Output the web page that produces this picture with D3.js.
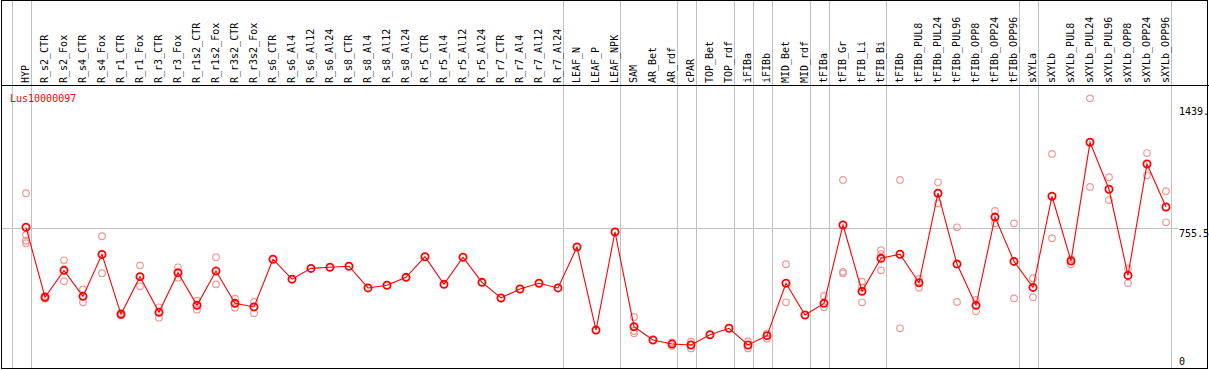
<!DOCTYPE html>
<html>
<head>
<meta charset="utf-8">
<script src="https://cdn.jsdelivr.net/npm/d3@7"></script>
<style>
  html, body { margin: 0; padding: 0; background: #fff; }
  svg { display: block; }
  text { font-family: "DejaVu Sans Mono", monospace; font-size: 10px; }
</style>
</head>
<body>
<div id="chart"></div>
<script>
const geneId = 'Lus10000097';

const samples = [
  'HYP', 'R_s2_CTR', 'R_s2_Fox', 'R_s4_CTR', 'R_s4_Fox', 'R_r1_CTR', 'R_r1_Fox',
  'R_r3_CTR', 'R_r3_Fox', 'R_r1s2_CTR', 'R_r1s2_Fox', 'R_r3s2_CTR', 'R_r3s2_Fox',
  'R_s6_CTR', 'R_s6_Al4', 'R_s6_Al12', 'R_s6_Al24', 'R_s8_CTR', 'R_s8_Al4',
  'R_s8_Al12', 'R_s8_Al24', 'R_r5_CTR', 'R_r5_Al4', 'R_r5_Al12', 'R_r5_Al24',
  'R_r7_CTR', 'R_r7_Al4', 'R_r7_Al12', 'R_r7_Al24', 'LEAF_N', 'LEAF_P', 'LEAF_NPK',
  'SAM', 'AR_Bet', 'AR_rdf', 'cPAR', 'TOP_Bet', 'TOP_rdf', 'iFIBa', 'iFIBb',
  'MID_Bet', 'MID_rdf', 'tFIBa', 'tFIB_Gr', 'tFIB_Li', 'tFIB_Bi', 'tFIBb',
  'tFIBb_PUL8', 'tFIBb_PUL24', 'tFIBb_PUL96', 'tFIBb_OPP8', 'tFIBb_OPP24',
  'tFIBb_OPP96', 'sXYLa', 'sXYLb', 'sXYLb_PUL8', 'sXYLb_PUL24', 'sXYLb_PUL96',
  'sXYLb_OPP8', 'sXYLb_OPP24', 'sXYLb_OPP96',
];

// mean expression per sample
const means = [
  761, 371, 521, 376, 610, 276, 486, 287, 508, 326, 517, 337, 317,
  583, 472, 532, 538, 544, 423, 438, 482, 597, 443, 594, 454, 367, 417, 449, 423,
  651, 188, 735,
  207, 133, 110, 105, 162, 198, 105, 157, 449, 272,
  337, 774, 404, 588,
  611, 452, 951, 556, 326, 818, 571,
  426, 934, 573, 1235, 973, 493, 1114, 874,
];

// replicate values (empty where only the mean is shown)
const replicates = [
  [951, 718, 686, 672], [378, 364], [577, 460], [415, 343], [711, 505],
  [282, 270], [549, 432], [315, 257], [538, 480], [352, 302], [594, 443],
  [363, 313], [345, 282],
  [], [], [], [], [], [], [], [], [], [], [], [], [], [], [], [],
  [], [], [],
  [261, 183, 170], [], [119, 99], [125, 86], [], [], [125, 86], [170, 140],
  [555, 343], [],
  [378, 315], [1025, 513, 505], [458, 426, 343], [634, 612, 521],
  [1025, 198], [473, 424], [1012, 895], [761, 345], [356, 293], [852, 783], [783, 365],
  [477, 371], [1170, 700], [583, 555], [1480, 986], [1040, 913], [532, 449],
  [1175, 1051], [963, 789],
];

// last sample of each tissue group (a grey separator follows it)
const groupEnds = [
  'HYP', 'R_r7_Al24', 'LEAF_NPK', 'AR_rdf', 'cPAR', 'TOP_rdf', 'iFIBa', 'iFIBb',
  'MID_rdf', 'tFIBa', 'tFIB_Bi', 'tFIBb_OPP96', 'sXYLa', 'sXYLb_OPP96',
];

const yTicks = [1439, 755.5, 0];
const yTickLabels = ['1439.', '755.5', '0'];
const gridValue = 755.5;

const width = 1209;
const height = 370;
const headerBottom = 85.5;
const plotBottom = 368.5;

const svg = d3
  .select('#chart')
  .append('svg')
  .attr('width', width)
  .attr('height', height);

const xScale = d3.scalePoint().domain(samples).range([26, 1166]);
const step = xScale.step();

const yScale = d3.scaleLinear().domain([0, 1439]).range([363.8, 105.7]);

// group separators
const sepX = [xScale(samples[0]) - step + 4.5, ...groupEnds.map((s) => xScale(s) + 4.5)];

svg
  .append('g')
  .selectAll('line')
  .data(sepX)
  .join('line')
  .attr('x1', (d) => Math.round(d) + 0.5)
  .attr('x2', (d) => Math.round(d) + 0.5)
  .attr('y1', 0)
  .attr('y2', plotBottom)
  .attr('stroke', '#c0c0c0')
  .attr('stroke-width', 1);

// mid gridline
svg
  .append('line')
  .attr('x1', 1)
  .attr('x2', 1178)
  .attr('y1', Math.round(yScale(gridValue)) + 0.5)
  .attr('y2', Math.round(yScale(gridValue)) + 0.5)
  .attr('stroke', '#c0c0c0');

// frame
svg
  .append('rect')
  .attr('x', 1.5)
  .attr('y', 0.5)
  .attr('width', 1206)
  .attr('height', plotBottom - 0.5)
  .attr('fill', 'none')
  .attr('stroke', '#000');

svg
  .append('line')
  .attr('x1', 1)
  .attr('x2', width)
  .attr('y1', headerBottom)
  .attr('y2', headerBottom)
  .attr('stroke', '#000');

// rotated sample labels
svg
  .append('g')
  .selectAll('text')
  .data(samples)
  .join('text')
  .attr('transform', (d) => `translate(${xScale(d) + 3},83) rotate(-90)`)
  .attr('fill', '#000')
  .text((d) => d);

// gene id
svg
  .append('text')
  .attr('x', 10)
  .attr('y', 101.5)
  .attr('fill', '#f00')
  .text(geneId);

// y labels on the right
svg
  .append('g')
  .selectAll('text')
  .data(yTicks)
  .join('text')
  .attr('x', 1179)
  .attr('y', (d) => Math.min(yScale(d) + 9, 364.5))
  .attr('fill', '#000')
  .text((d, i) => yTickLabels[i]);

// replicate points
const repPoints = samples.flatMap((s, i) => replicates[i].map((v) => ({ s, v })));

svg
  .append('g')
  .selectAll('circle')
  .data(repPoints)
  .join('circle')
  .attr('cx', (d) => xScale(d.s))
  .attr('cy', (d) => yScale(d.v))
  .attr('r', 3.3)
  .attr('fill', 'none')
  .attr('stroke', '#ee9a9a')
  .attr('stroke-width', 1.2);

// mean line
const line = d3
  .line()
  .x((d, i) => xScale(samples[i]))
  .y((d) => yScale(d));

svg
  .append('path')
  .datum(means)
  .attr('d', line)
  .attr('fill', 'none')
  .attr('stroke', '#f00')
  .attr('stroke-width', 1.1);

// mean points
svg
  .append('g')
  .selectAll('circle')
  .data(means)
  .join('circle')
  .attr('cx', (d, i) => xScale(samples[i]))
  .attr('cy', (d) => yScale(d))
  .attr('r', 3.6)
  .attr('fill', 'none')
  .attr('stroke', '#f00')
  .attr('stroke-width', 1.8);
</script>
</body>
</html>
